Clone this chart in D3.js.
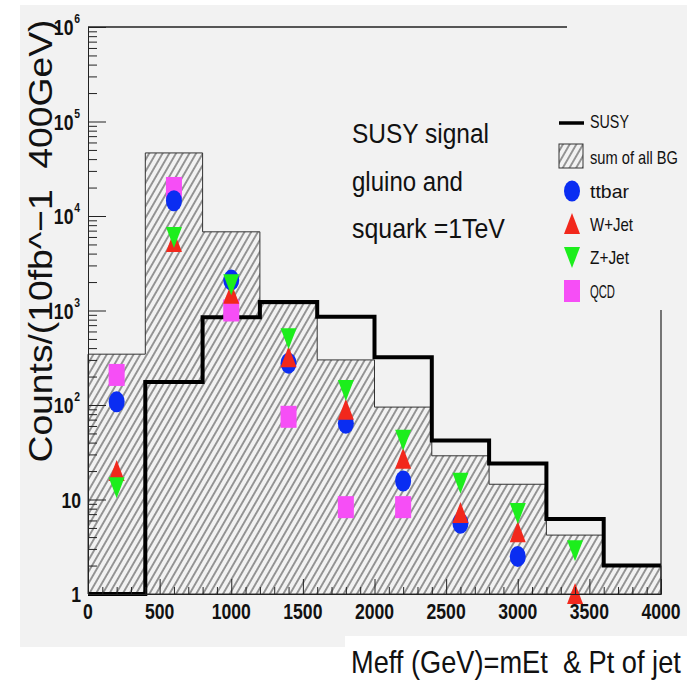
<!DOCTYPE html>
<html>
<head>
<meta charset="utf-8">
<script src="https://cdn.jsdelivr.net/npm/d3@7"></script>
<style>
  body { margin: 0; background: #fff; }
  text { font-family: "Liberation Sans", Arial, sans-serif; fill: #111; white-space: pre; }
</style>
</head>
<body>
<div id="chart"></div>
<script>
// histogram bins (GeV), 400 GeV wide
const binEdges = [0, 400, 800, 1200, 1600, 2000, 2400, 2800, 3200, 3600, 4000];
const binCenters = [200, 600, 1000, 1400, 1800, 2200, 2600, 3000, 3400, 3800];

// counts per bin
const susySignal = [0, 175, 850, 1230, 860, 320, 42, 24, 6.2, 2];
const bgSum = [345, 46500, 6800, 1180, 300, 95, 29, 14.5, 4.2, 2];
const ttbar = [108, 14500, 2100, 277, 64, 15.7, 5.6, 2.5, null, null];
const wJet = [20, 5300, 1500, 320, 89, 27, 7.2, 4.5, 1.0, null];
const zJet = [13.5, 6000, 1900, 510, 144, 43, 15, 7.2, 2.9, null];
const qcd = [208, 19800, 1000, 75, 8.3, 8.3, null, null, null, null];

const xTicks = [0, 500, 1000, 1500, 2000, 2500, 3000, 3500, 4000];
const yDecades = [0, 1, 2, 3, 4, 5, 6];

const W = 687, H = 684;
const pLeft = 88, pRight = 661, pTop = 27, pBottom = 594;
const bgGray = "#f2f2f2";

const svg = d3.select("#chart").append("svg")
  .attr("width", W).attr("height", H);

// squeeze a text horizontally to the given width (condensed look)
function fit(t, w) {
  const n = t.node().getComputedTextLength();
  const x0 = +t.attr("x"), y0 = +t.attr("y");
  t.attr("x", 0).attr("y", 0)
    .attr("transform", `translate(${x0},${y0}) scale(${w / n},1)`);
  return t;
}

// canvas
svg.append("rect").attr("x", 20).attr("y", 5).attr("width", W - 20).attr("height", 642).attr("fill", bgGray);
svg.append("rect").attr("x", 345).attr("y", 636).attr("width", W - 345).attr("height", 48).attr("fill", "#fff");

// hatch pattern
const defs = svg.append("defs");
const pat = defs.append("pattern")
  .attr("id", "hatch")
  .attr("patternUnits", "userSpaceOnUse")
  .attr("width", 5.8).attr("height", 10)
  .attr("patternTransform", "rotate(30)");
pat.append("rect").attr("width", 5.8).attr("height", 10).attr("fill", bgGray);
pat.append("line").attr("x1", 2.9).attr("x2", 2.9).attr("y1", 0).attr("y2", 10)
  .attr("stroke", "#3a3a3a").attr("stroke-width", 1);

const x = d3.scaleLinear().domain([0, 4000]).range([pLeft, pRight]);
const y = d3.scaleLog().domain([1, 1e6]).range([pBottom, pTop]);
const yv = v => y(Math.max(v, 1));

function histPoints(vals) {
  const pts = vals.map((v, i) => [binEdges[i], v]);
  pts.push([binEdges[binEdges.length - 1], vals[vals.length - 1]]);
  return pts;
}

// background sum (hatched)
svg.append("path")
  .datum(histPoints(bgSum))
  .attr("fill", "url(#hatch)")
  .attr("stroke", "#333")
  .attr("stroke-width", 1)
  .attr("d", d3.area().curve(d3.curveStepAfter)
    .x(d => x(d[0])).y0(pBottom).y1(d => yv(d[1])));

// SUSY signal
svg.append("path")
  .datum(histPoints(susySignal))
  .attr("fill", "none")
  .attr("stroke", "#000")
  .attr("stroke-width", 4)
  .attr("d", d3.line().curve(d3.curveStepAfter)
    .x(d => x(d[0])).y(d => yv(d[1])));

// marker shapes, 16 x 22 px
const shapes = {
  circle: g => g.append("ellipse").attr("rx", 8).attr("ry", 10.5),
  up: g => g.append("path").attr("d", "M-8,10L8,10L0,-11Z"),
  down: g => g.append("path").attr("d", "M-8,-10L8,-10L0,11Z"),
  square: g => g.append("rect").attr("x", -8).attr("y", -11).attr("width", 16).attr("height", 22)
};

const series = [
  {name: "QCD", vals: qcd, shape: "square", color: "#f64ef6"},
  {name: "ttbar", vals: ttbar, shape: "circle", color: "#0a2df2"},
  {name: "W+Jet", vals: wJet, shape: "up", color: "#f2281c"},
  {name: "Z+Jet", vals: zJet, shape: "down", color: "#1cee1c"}
];

series.forEach(s => {
  s.vals.forEach((v, i) => {
    if (v == null) return;
    const g = svg.append("g")
      .attr("transform", `translate(${x(binCenters[i])},${y(v)})`)
      .attr("fill", s.color);
    shapes[s.shape](g);
  });
});

// axes, ticks drawn inside the frame
const xMinor = d3.range(0, 4001, 100).filter(v => v % 500 !== 0);
svg.append("g").attr("transform", `translate(0,${pBottom})`)
  .call(d3.axisBottom(x).tickValues(xMinor).tickSize(-7).tickSizeOuter(0).tickFormat(""));
svg.append("g").attr("transform", `translate(0,${pBottom})`)
  .call(d3.axisBottom(x).tickValues(xTicks).tickSize(-15).tickSizeOuter(0).tickFormat(""));

const yMajor = yDecades.map(d => Math.pow(10, d));
const yMinor = [];
yDecades.slice(0, -1).forEach(d => { for (let k = 2; k <= 9; k++) yMinor.push(k * Math.pow(10, d)); });
svg.append("g").attr("transform", `translate(${pLeft},0)`)
  .call(d3.axisLeft(y).tickValues(yMinor).tickSize(-9).tickSizeOuter(0).tickFormat(""));
svg.append("g").attr("transform", `translate(${pLeft},0)`)
  .call(d3.axisLeft(y).tickValues(yMajor).tickSize(-18).tickSizeOuter(0).tickFormat(""));

svg.selectAll(".domain, .tick line").attr("stroke", "#222").attr("stroke-width", 1);

// frame top and right
svg.append("line").attr("x1", pLeft).attr("x2", pRight).attr("y1", pTop).attr("y2", pTop)
  .attr("stroke", "#222").attr("stroke-width", 1.5);
svg.append("line").attr("x1", pRight).attr("x2", pRight).attr("y1", pTop).attr("y2", pBottom)
  .attr("stroke", "#222").attr("stroke-width", 1.2);

// x tick labels
xTicks.forEach(d => {
  const t = svg.append("text")
    .attr("x", x(d) - String(d).length * 4.9).attr("y", 619)
    .attr("font-size", 22).attr("font-weight", "bold")
    .text(d);
  fit(t, String(d).length * 9.8);
});

// y tick labels, powers of ten with superscript
yDecades.forEach(d => {
  const yy = y(Math.pow(10, d)) + 8;
  const t = svg.append("text").attr("x", 0).attr("y", 0)
    .attr("text-anchor", "end")
    .attr("font-size", 22).attr("font-weight", "bold");
  if (d === 0) {
    t.text("1");
  } else if (d === 1) {
    t.text("10");
  } else {
    t.append("tspan").text("10");
    t.append("tspan").attr("font-size", 13).attr("dy", -12).attr("dx", 1).text(d);
  }
  t.attr("transform", `translate(${d < 2 ? 81 : 80},${yy}) scale(0.8,1)`);
});

// axis titles
svg.append("text")
  .attr("transform", "translate(52,241) rotate(-90)")
  .attr("text-anchor", "middle")
  .attr("font-size", 34)
  .attr("textLength", 443).attr("lengthAdjust", "spacingAndGlyphs")
  .text("Counts/(10fb^\u22121  400GeV)");

fit(svg.append("text")
  .attr("x", 351).attr("y", 673)
  .attr("font-size", 31)
  .text("Meff (GeV)=mEt  & Pt of jet"), 330);

// annotation
const note = [["SUSY signal", 137, 143], ["gluino and", 111, 191], ["squark =1TeV", 153, 238]];
note.forEach(n => {
  fit(svg.append("text").attr("x", 352).attr("y", n[2])
    .attr("font-size", 27)
    .text(n[0]), n[1]);
});

// legend (box hides the frame corner)
svg.append("rect").attr("x", 567).attr("y", 20).attr("width", W - 567).attr("height", 290).attr("fill", bgGray);
const lg = svg.append("g");
const legendRows = [
  {label: "SUSY", w: 39, y: 128},
  {label: "sum of all BG", w: 88, y: 164},
  {label: "ttbar", w: 39, y: 198},
  {label: "W+Jet", w: 43, y: 231},
  {label: "Z+Jet", w: 39, y: 264},
  {label: "QCD", w: 25, y: 298}
];
legendRows.forEach(r => {
  fit(lg.append("text").attr("x", 590).attr("y", r.y)
    .attr("font-size", 18)
    .text(r.label), r.w);
});
lg.append("line").attr("x1", 559).attr("x2", 584).attr("y1", 123).attr("y2", 123)
  .attr("stroke", "#000").attr("stroke-width", 3.5);
lg.append("rect").attr("x", 559).attr("y", 144).attr("width", 24).attr("height", 24)
  .attr("fill", "url(#hatch)").attr("stroke", "#333").attr("stroke-width", 1);
series.forEach(s => {
  const row = legendRows.find(r => r.label === s.name);
  const g = lg.append("g").attr("transform", `translate(572,${row.y - 7})`).attr("fill", s.color);
  shapes[s.shape](g);
});
</script>
</body>
</html>
